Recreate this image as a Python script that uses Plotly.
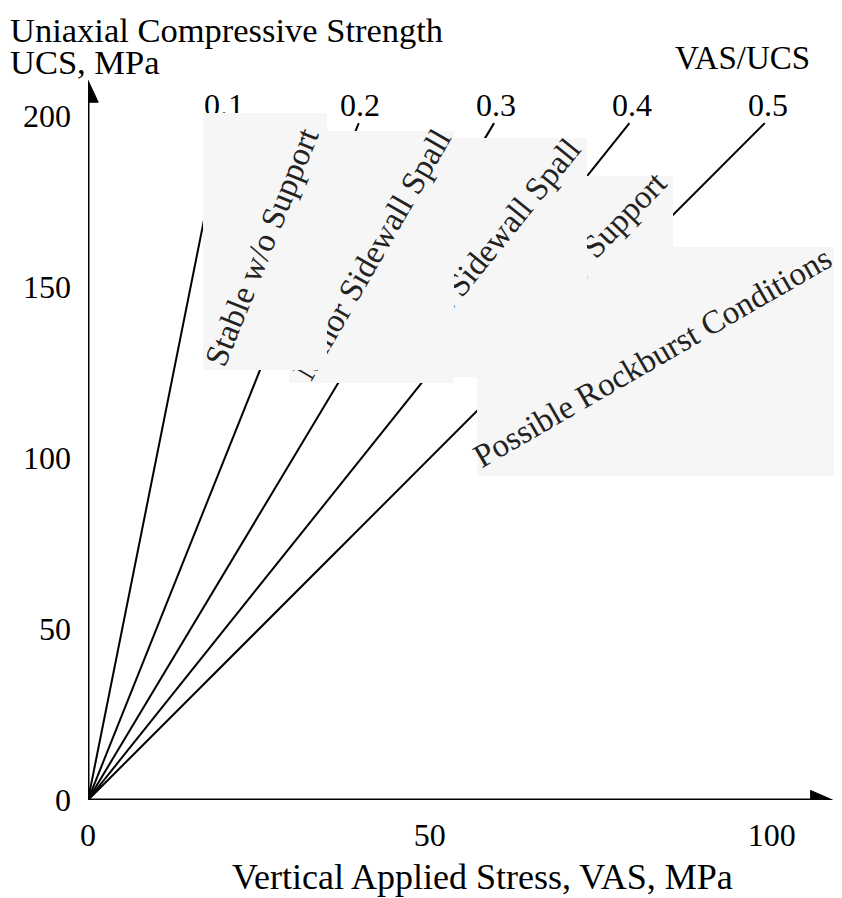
import plotly.graph_objects as go

# ---- data ----
ratios = [0.1, 0.2, 0.3, 0.4, 0.5]          # VAS/UCS
ratio_labels = ["0.1", "0.2", "0.3", "0.4", "0.5"]
ucs_line_end = 198                           # MPa, top end of each ratio line
label_ucs = 203.2                            # MPa, height of ratio labels
x_ticks = [0, 50, 100]
x_tick_text = ["0", "50", "100"]
y_ticks = [0, 50, 100, 150, 200]
y_tick_text = ["0", "50", "100", "150", "200"]

zone_names = ["Stable w/o Support", "Minor Sidewall Spall", "Severe Sidewall Spall",
              "Heavy Support", "Possible Rockburst Conditions"]
zone_text_x = [25.4, 41.6, 57.8, 73.6, 82.6]
zone_text_y = [161.8, 159.6, 159.3, 161.2, 129.5]
zone_text_angle = [-68, -60, -51, -46, -30]
# label patches (centre in data units, size in px)
patch_x = [25.9, 41.45, 59.28, 74.34, 83.11]
patch_y = [163.3, 158.8, 158.6, 165.8, 128.2]
patch_w = [124, 165, 187, 153, 359]
patch_h = [257, 252, 239, 114, 229]

FONT = "Liberation Serif, Times New Roman, serif"
PATCH = "#f6f6f6"

fig = go.Figure()
for r in ratios:
    fig.add_trace(go.Scatter(x=[0, r * ucs_line_end], y=[0, ucs_line_end], mode="lines",
                             line=dict(color="black", width=2), showlegend=False,
                             hoverinfo="skip"))

annotations = []
for r, t in zip(ratios, ratio_labels):
    annotations.append(dict(x=r * 199, y=label_ucs, xref="x", yref="y", text=t,
                            showarrow=False, font=dict(family=FONT, size=32, color="black")))

# draw patches + texts from bottom (zone 5) to top (zone 1)
for i in reversed(range(5)):
    annotations.append(dict(x=patch_x[i], y=patch_y[i], xref="x", yref="y", text="",
                            showarrow=False, width=patch_w[i], height=patch_h[i],
                            bgcolor=PATCH, borderpad=0, borderwidth=0))
    annotations.append(dict(x=zone_text_x[i], y=zone_text_y[i], xref="x", yref="y",
                            text=zone_names[i], textangle=zone_text_angle[i],
                            showarrow=False, font=dict(family=FONT, size=33, color="#222")))

# titles
annotations += [
    dict(x=-0.1064, y=1.0477, xref="paper", yref="paper", xanchor="left", yanchor="middle",
         text="Uniaxial Compressive Strength", showarrow=False,
         font=dict(family=FONT, size=34.5, color="black")),
    dict(x=-0.1064, y=1.0043, xref="paper", yref="paper", xanchor="left", yanchor="middle",
         text="UCS, MPa", showarrow=False, font=dict(family=FONT, size=34.5, color="black")),
    dict(x=0.871, y=1.0095, xref="paper", yref="paper", xanchor="center", yanchor="middle",
         text="VAS/UCS", showarrow=False, font=dict(family=FONT, size=33, color="black")),
    dict(x=0.524, y=-0.1048, xref="paper", yref="paper", xanchor="center", yanchor="middle",
         text="Vertical Applied Stress, VAS, MPa", showarrow=False,
         font=dict(family=FONT, size=36, color="black")),
]

# axis arrows
shapes = [
    dict(type="line", x0=0, y0=0, x1=106, y1=0, xref="x", yref="y",
         line=dict(color="black", width=3)),
    dict(type="path", path="M 105.7 -2.8 L 108.9 0 L 105.7 2.8 Z", xref="x", yref="y",
         fillcolor="black", line=dict(color="black", width=1)),
    dict(type="line", x0=0, y0=0, x1=0, y1=204.5, xref="x", yref="y",
         line=dict(color="black", width=3)),
    dict(type="path", path="M -1.5 204.1 L 0 210.5 L 1.5 204.1 Z", xref="x", yref="y",
         fillcolor="black", line=dict(color="black", width=1)),
]

fig.update_layout(
    width=834, height=890,
    margin=dict(l=80, r=2, t=57, b=98),
    paper_bgcolor="white", plot_bgcolor="white",
    annotations=annotations, shapes=shapes,
    xaxis=dict(range=[0, 110], tickvals=x_ticks, ticktext=x_tick_text, showgrid=False,
               zeroline=False, showline=False, ticks="", ticklabelstandoff=13,
               tickfont=dict(family=FONT, size=32, color="black"), fixedrange=True),
    yaxis=dict(range=[0, 215], tickvals=y_ticks, ticktext=y_tick_text, showgrid=False,
               zeroline=False, showline=False, ticks="", ticklabelstandoff=16,
               tickfont=dict(family=FONT, size=32, color="black"), fixedrange=True),
)

fig.write_html("out.html")
